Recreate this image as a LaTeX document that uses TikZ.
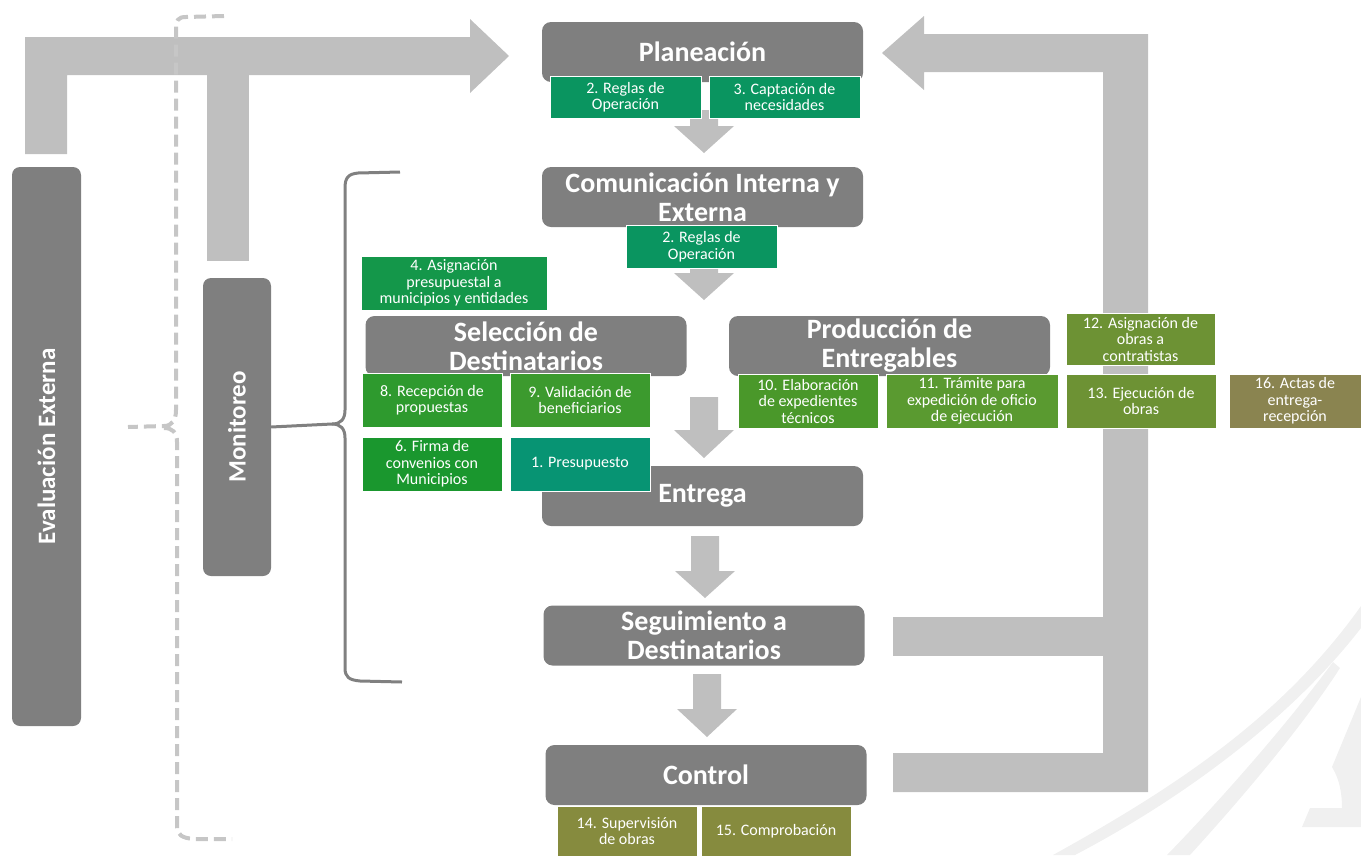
\documentclass[tikz,border=0pt]{standalone}
\usepackage{fontspec}
\setmainfont{Carlito}
\definecolor{boxgray}{HTML}{7F7F7F}
\definecolor{arrgray}{HTML}{BFBFBF}
\definecolor{dashgray}{HTML}{C6C6C6}
\definecolor{brgray}{HTML}{808080}
\definecolor{gTeal}{HTML}{0A9560}
\definecolor{gFour}{HTML}{14974A}
\definecolor{gEight}{HTML}{2E9A2E}
\definecolor{gNine}{HTML}{3C9A2E}
\definecolor{gSix}{HTML}{1A972E}
\definecolor{gOne}{HTML}{079473}
\definecolor{gTen}{HTML}{4A982A}
\definecolor{gEleven}{HTML}{5A9A30}
\definecolor{gOlive}{HTML}{6D9234}
\definecolor{gBrown}{HTML}{8A8450}
\definecolor{gCtrl}{HTML}{868B3E}
\definecolor{wm}{HTML}{F0F0F0}
\newcommand\blockdown[4]{%
  \fill[arrgray] (#1-14,#2) -- (#1+14,#2) -- (#1+14,#3) -- (#1+30,#3) -- (#1,#4) -- (#1-30,#3) -- (#1-14,#3) -- cycle;}
\tikzset{
  stage/.style={rectangle, rounded corners=9pt, fill=boxgray, text=white,
    minimum width=321pt, minimum height=60pt, align=center, inner sep=0pt,
    font=\fontsize{28}{29}\selectfont\bfseries},
  sidebox/.style={rectangle, rounded corners=8pt, fill=boxgray, text=white,
    inner sep=0pt, font=\fontsize{25}{28}\selectfont\bfseries},
  task/.style={rectangle, fill=#1, draw=white, line width=0.6pt, text=white,
    align=center, inner sep=1pt, font=\fontsize{16}{16.5}\selectfont},
  dashbrace/.style={draw=dashgray, line width=4pt, dash pattern=on 12pt off 6pt},
  solidbrace/.style={draw=brgray, line width=3pt},
}
\begin{document}
\begin{tikzpicture}[x=1pt,y=-1pt]
\useasboundingbox (0,0) rectangle (1361,855);
% watermark
\fill[wm] (1053,855) .. controls (1170,790) and (1280,720) .. (1361,606)
  -- (1361,628) .. controls (1290,720) and (1180,800) .. (1075,855) -- cycle;
\fill[wm] (1167,855) .. controls (1230,790) and (1290,720) .. (1333,662)
  -- (1340,668) .. controls (1300,730) and (1240,800) .. (1190,855) -- cycle;
\fill[wm] (1361,697) -- (1332,767) .. controls (1340,780) and (1342,795) .. (1342,808)
  -- (1310,808) -- (1302,827) -- (1361,827) -- cycle;
% big arrows
\fill[arrgray] (25,154) -- (25,37) -- (470,37) -- (470,19) -- (509,56) -- (470,93)
  -- (470,75) -- (67,75) -- (67,154) -- cycle;
\fill[arrgray] (207,74) rectangle (249,261);
\fill[arrgray] (1148,792) -- (1148,34) -- (924,34) -- (924,16) -- (882,53) -- (924,90)
  -- (924,72) -- (1103,72) -- (1103,753) -- (893,753) -- (893,792) -- cycle;
\fill[arrgray] (893,617) rectangle (1103,656);
% small arrows
\blockdown{704}{110}{126}{153}
\blockdown{704}{260}{273}{300}
\blockdown{704}{397}{430}{458}
\blockdown{705}{536}{571}{598}
\blockdown{707}{674}{709}{737}
% side boxes
\node[sidebox, minimum width=69pt, minimum height=559pt] (eval) at (46.5,446.5) {};
\node[sidebox, rotate=90] (evaltxt) at (eval.center) {Evaluación Externa};
\node[sidebox, minimum width=68pt, minimum height=298pt] (moni) at (237,427) {};
\node[sidebox, rotate=90] (monitxt) at (moni.center) {Monitoreo};
% dashed brace
\coordinate (dtop) at (224,16);
\coordinate (dmid) at (128,427);
\coordinate (dbot) at (232,839);
\draw[dashbrace] (dtop) -- (186,17) .. controls (178,17) and (176,20) .. (176,30)
  -- (176,410) .. controls (176,420) and (172,426) .. (164,426) -- (dmid);
\draw[dashbrace] (164,428) .. controls (172,428) and (177,432) .. (177,442)
  -- (177,826) .. controls (177,835) and (182,838) .. (194,839) -- (dbot);
% solid brace
\coordinate (btop) at (400,172);
\coordinate (bbot) at (402,682);
\draw[solidbrace] (btop) -- (358,173) .. controls (348,174) and (345,178) .. (345,188)
  -- (345,410) .. controls (345,419) and (341,424) .. (332,424) -- (moni.east);
\draw[solidbrace] (332,424) .. controls (341,424) and (345,429) .. (345,438)
  -- (345,668) .. controls (345,677) and (349,680) .. (360,681) -- (bbot);
% stage boxes
\node[stage] (plan) at (702.5,52) {Planeación};
\node[stage] (com) at (702.5,197) {Comunicación Interna y\\Externa};
\node[stage] (sel) at (526,346) {Selección de\\Destinatarios};
\node[stage] (prod) at (889.5,346) {Producción de\\Entregables};
\node[stage] (ent) at (702.5,496) {Entrega};
\node[stage] (seg) at (704,635.5) {Seguimiento a\\Destinatarios};
\node[stage] (ctrl) at (706,775) {Control};
% task boxes
\node[task=gTeal, minimum width=151pt, minimum height=42pt] (t2a) at (625.5,97) {2. Reglas de\\Operación};
\node[task=gTeal, minimum width=151pt, minimum height=42pt] (t3) at (784.5,97) {3. Captación de\\necesidades};
\node[task=gTeal, minimum width=151pt, minimum height=43pt] (t2b) at (701.5,246.5) {2. Reglas de\\Operación};
\node[task=gFour, minimum width=186pt, minimum height=54pt] (t4) at (454,283) {4. Asignación\\presupuestal a\\municipios y entidades};
\node[task=gEight, minimum width=140pt, minimum height=54pt] (t8) at (432,400) {8. Recepción de\\propuestas};
\node[task=gNine, minimum width=140pt, minimum height=54pt] (t9) at (580,400) {9. Validación de\\beneficiarios};
\node[task=gSix, minimum width=140pt, minimum height=54pt] (t6) at (432,464) {6. Firma de\\convenios con\\Municipios};
\node[task=gOne, minimum width=140pt, minimum height=54pt] (t1) at (580,464) {1. Presupuesto};
\node[task=gTen, minimum width=140pt, minimum height=54pt] (t10) at (808,401) {10. Elaboración\\de expedientes\\técnicos};
\node[task=gEleven, minimum width=172pt, minimum height=54pt] (t11) at (972,401) {11. Trámite para\\expedición de oficio\\de ejecución};
\node[task=gOlive, minimum width=149pt, minimum height=52pt] (t12) at (1140.5,339) {12. Asignación de\\obras a\\contratistas};
\node[task=gOlive, minimum width=150pt, minimum height=54pt] (t13) at (1141,401) {13. Ejecución de\\obras};
\node[task=gBrown, minimum width=132pt, minimum height=54pt] (t16) at (1295,401) {16. Actas de\\entrega-\\recepción};
\node[task=gCtrl, minimum width=140pt, minimum height=50pt] (t14) at (627,831) {14. Supervisión\\de obras};
\node[task=gCtrl, minimum width=150pt, minimum height=50pt] (t15) at (776,831) {15. Comprobación};
\end{tikzpicture}
\end{document}
